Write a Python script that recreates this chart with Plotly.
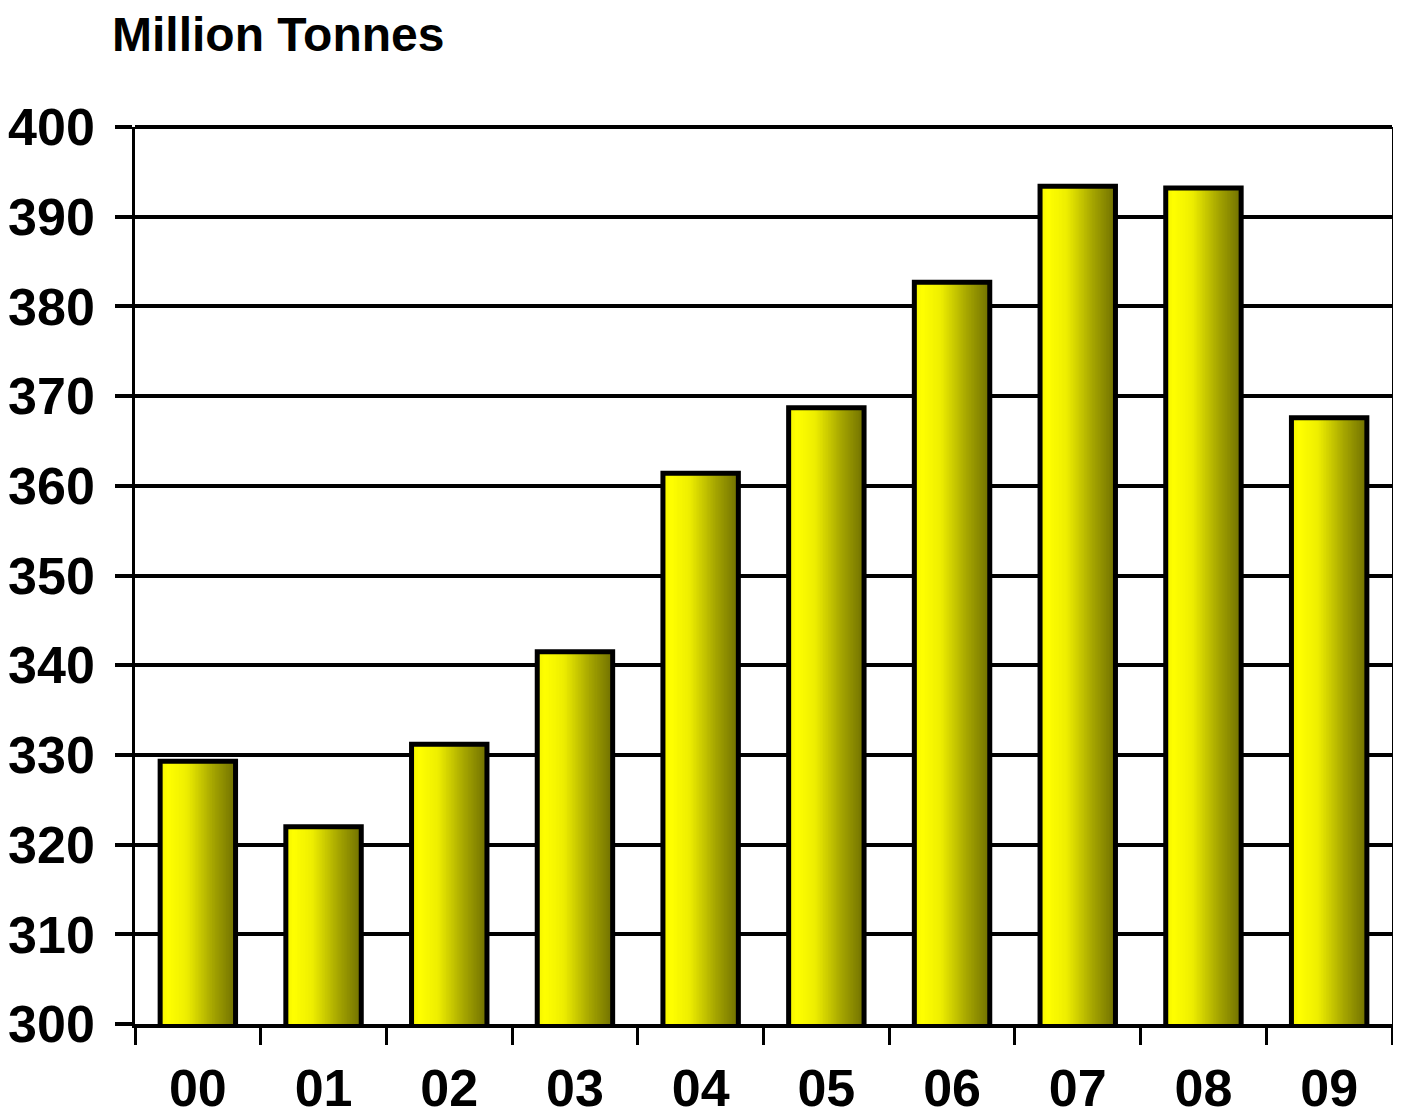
import plotly.graph_objects as go

categories = ["00", "01", "02", "03", "04", "05", "06", "07", "08", "09"]
values = [329.3, 322.0, 331.2, 341.5, 361.4, 368.7, 382.7, 393.4, 393.2, 367.6]
y_ticks = [300, 310, 320, 330, 340, 350, 360, 370, 380, 390, 400]

FONT = "Liberation Sans, Arial"
BAR_W = 0.6
N_SLICES = 48

# page body has an 8px margin in the browser
W, H = 1393, 1109
PLOT_L, PLOT_R, PLOT_T, PLOT_B = 127, 1384, 119, 1016


def lerp_color(t):
    stops = [(0.0, (242, 242, 0)), (0.1, (255, 255, 0)), (0.35, (238, 238, 0)),
             (0.7, (165, 165, 0)), (1.0, (112, 112, 0))]
    for (t0, c0), (t1, c1) in zip(stops[:-1], stops[1:]):
        if t0 <= t <= t1:
            f = (t - t0) / (t1 - t0) if t1 > t0 else 0
            c = [round(a + (b - a) * f) for a, b in zip(c0, c1)]
            return "rgb(%d,%d,%d)" % tuple(c)
    return "rgb(112,112,0)"


fig = go.Figure()
step = BAR_W / N_SLICES
for k in range(N_SLICES):
    t = (k + 0.5) / N_SLICES
    fig.add_trace(go.Bar(
        x=categories, y=values,
        width=BAR_W - k * step,
        offset=-BAR_W / 2 + k * step,
        marker=dict(color=lerp_color(t), line=dict(width=0)),
        hoverinfo="skip", showlegend=False,
    ))

fig.add_trace(go.Bar(
    x=categories, y=values, width=BAR_W, offset=-BAR_W / 2,
    marker=dict(color="rgba(0,0,0,0)", line=dict(color="black", width=5)),
    showlegend=False,
))

pw = PLOT_R - PLOT_L
ph = PLOT_B - PLOT_T

fig.update_layout(
    width=W, height=H,
    margin=dict(l=PLOT_L, r=W - PLOT_R, t=PLOT_T, b=H - PLOT_B),
    paper_bgcolor="white", plot_bgcolor="white",
    barmode="overlay",
    font=dict(family=FONT, size=52, color="black", weight="bold"),
    xaxis=dict(
        type="category",
        automargin=False,
        tickson="boundaries",
        ticks="outside", ticklen=17, tickwidth=3, tickcolor="black",
        showline=True, linecolor="black", linewidth=4,
        showgrid=False,
        tickfont=dict(family=FONT, size=52, color="black", weight="bold"),
        ticklabelstandoff=16,
    ),
    yaxis=dict(
        range=[300, 400],
        automargin=False,
        tickvals=y_ticks,
        ticks="outside", ticklen=17, tickwidth=4, tickcolor="black",
        showline=True, linecolor="black", linewidth=2.5,
        mirror="ticks",
        showgrid=True, gridcolor="black", gridwidth=4,
        zeroline=False,
        tickfont=dict(family=FONT, size=52, color="black", weight="bold"),
        ticklabelstandoff=10,
    ),
    shapes=[dict(
        type="line", xref="paper", yref="paper",
        x0=0, x1=1, y0=1, y1=1,
        line=dict(color="black", width=4), layer="above",
    )],
    annotations=[dict(
        text="Million Tonnes", xref="paper", yref="paper",
        x=(102 - PLOT_L) / pw, y=(PLOT_B - 26) / ph,
        xanchor="left", yanchor="middle", showarrow=False,
        font=dict(family=FONT, size=48, color="black", weight="bold"),
    )],
)

fig.write_html("out.html")
